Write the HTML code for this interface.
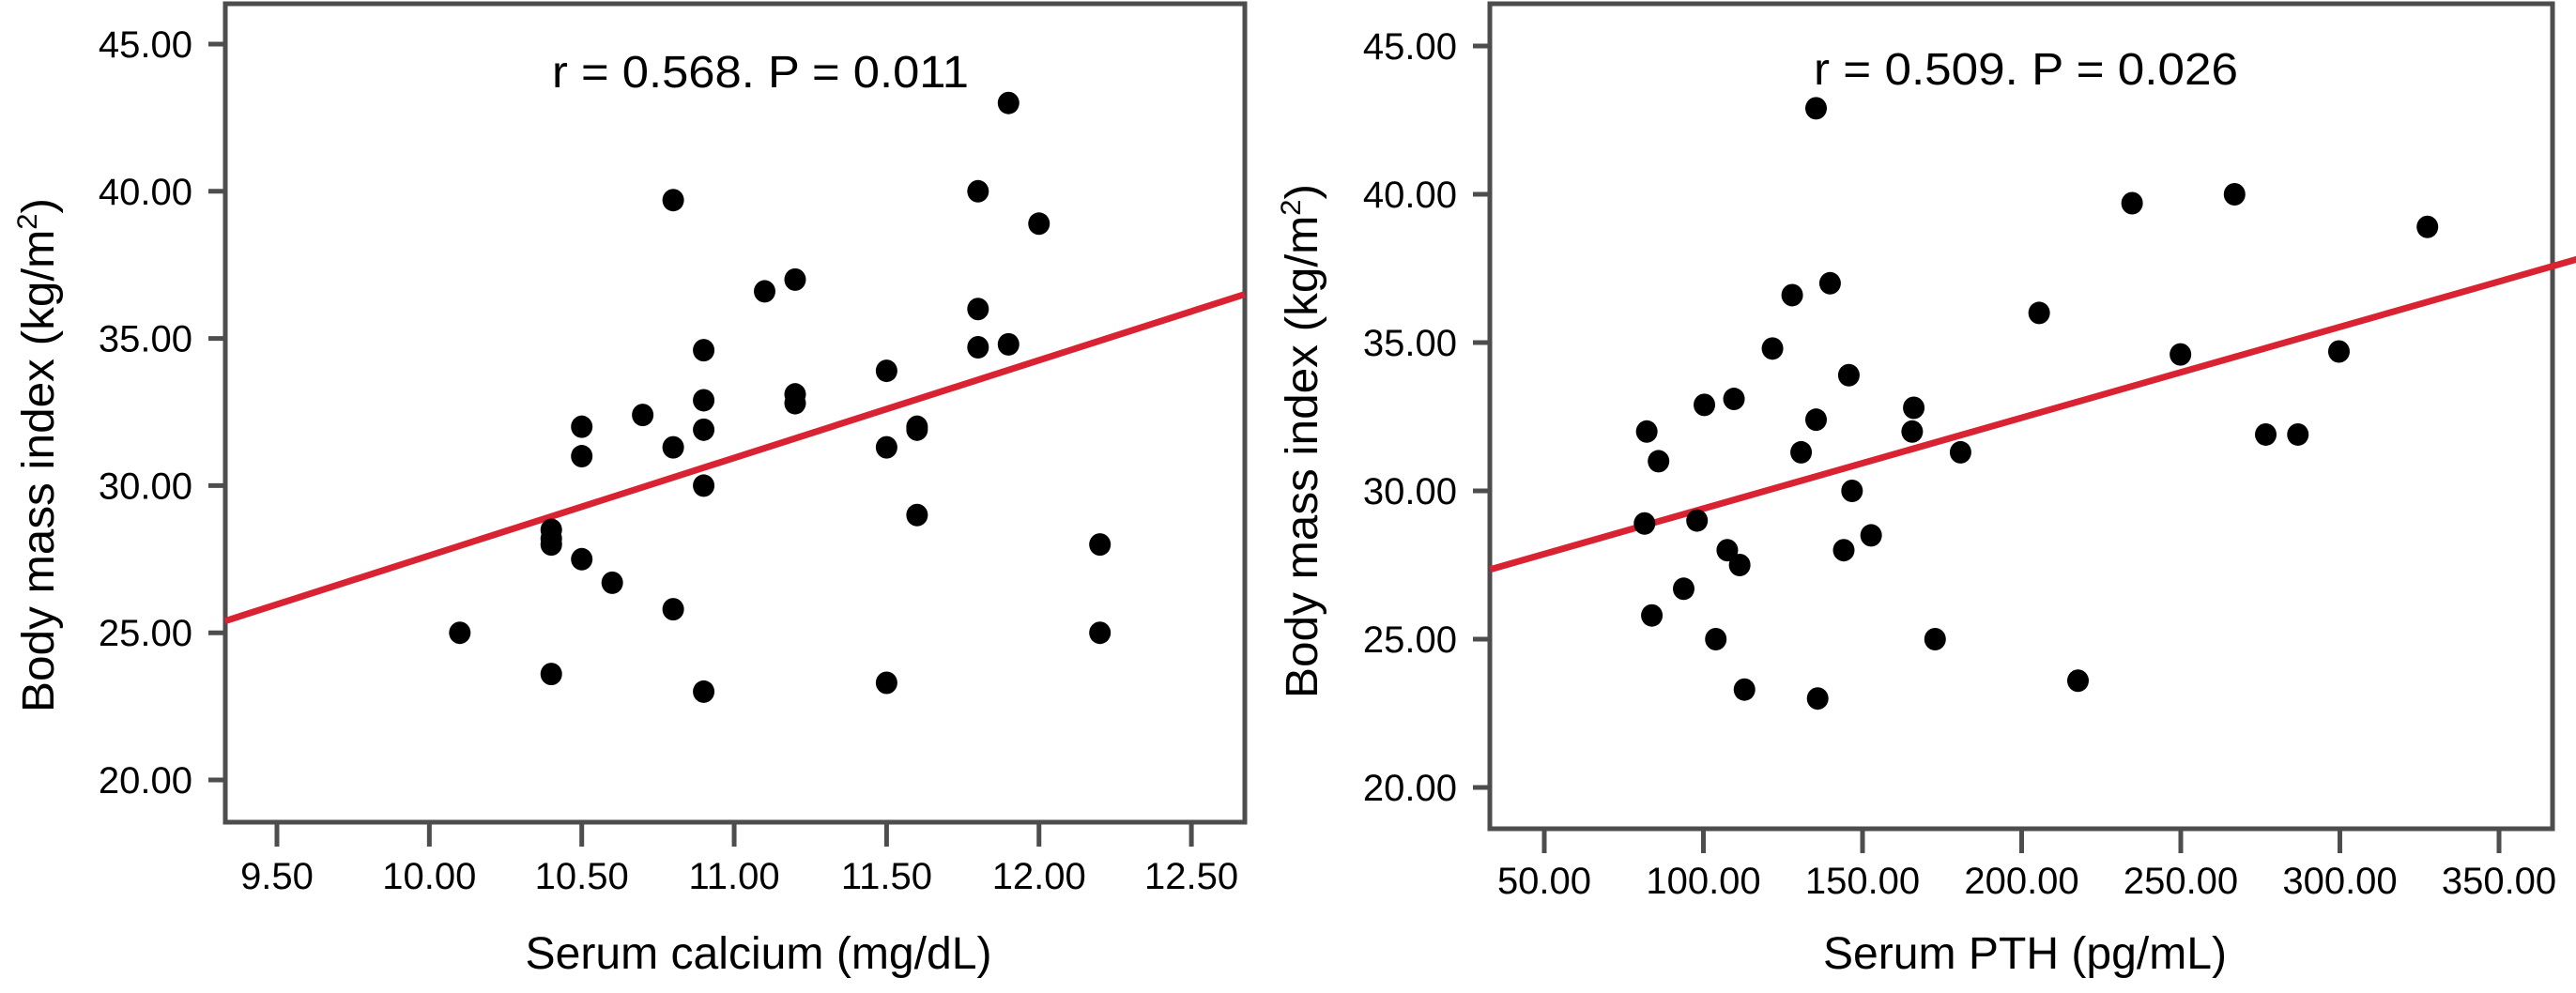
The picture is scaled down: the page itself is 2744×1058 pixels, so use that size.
<!DOCTYPE html>
<html><head><meta charset="utf-8"><style>
html,body{margin:0;padding:0;background:#fff;}
svg{display:block;font-family:"Liberation Sans",Arial,sans-serif;}
</style></head><body>
<svg id="fig" width="2744" height="1058" viewBox="0 0 2744 1058" xmlns="http://www.w3.org/2000/svg"></svg>
<script>
// ---- Left chart data ----
const caX = [10.1,10.4,10.4,10.4,10.4,10.5,10.5,10.5,10.6,10.7,10.8,10.8,10.8,10.9,10.9,10.9,10.9,10.9,11.1,11.2,11.2,11.2,11.5,11.5,11.5,11.6,11.6,11.6,11.8,11.8,11.8,11.9,11.9,12.0,12.2,12.2];
const caBMI = [25,23.6,28.5,28.2,28,32,31,27.5,26.7,32.4,39.7,31.3,25.8,34.6,32.9,31.9,30,23,36.6,37,33.1,32.8,33.9,31.3,23.3,32,31.9,29,40,36,34.7,43,34.8,38.9,28,25];
const caTicks = [9.5,10,10.5,11,11.5,12,12.5];
const caTickLabels = ["9.50","10.00","10.50","11.00","11.50","12.00","12.50"];
const caFitX = [9.33,12.675];
const caFitY = [25.4,36.5];
// ---- Right chart data ----
const pthX = [135.4,234.7,266.9,327.5,139.8,127.9,205.5,121.7,249.9,299.7,145.7,100.3,109.6,166.1,82.2,135.4,165.6,276.7,286.8,85.9,130.7,180.8,146.7,81.5,98.0,107.5,111.4,144.1,152.7,93.8,83.8,103.9,172.8,112.9,135.9,217.7];
const pthBMI = [42.9,39.7,40.0,38.9,37.0,36.6,36.0,34.8,34.6,34.7,33.9,32.9,33.1,32.8,32.0,32.4,32.0,31.9,31.9,31.0,31.3,31.3,30.0,28.9,29.0,28.0,27.5,28.0,28.5,26.7,25.8,25.0,25.0,23.3,23.0,23.6];
const pthTicks = [50,100,150,200,250,300,350];
const pthTickLabels = ["50.00","100.00","150.00","200.00","250.00","300.00","350.00"];
const pthFitX = [33,384];
const pthFitY = [27.35,38.1];
// ---- Shared y ----
const yTicks = [20,25,30,35,40,45];
const yTickLabels = ["20.00","25.00","30.00","35.00","40.00","45.00"];

const NS = "http://www.w3.org/2000/svg";
const svg = document.getElementById('fig');
function mk(tag, attrs, parent){
  const e = document.createElementNS(NS, tag);
  for (const k in attrs) e.setAttribute(k, attrs[k]);
  (parent||svg).appendChild(e);
  return e;
}

function drawChart(cfg){
  const g = mk('g', {});
  
  
  const sx = v => cfg.x0 + (v - cfg.xv0) * cfg.xs;
  const sy = v => cfg.y0 - (v - 20) * cfg.ys;
  // frame
  const fr = mk('rect', {x:cfg.L, y:cfg.T, width:cfg.R-cfg.L, height:cfg.B-cfg.T, fill:'none', stroke:'#4d4d4d', 'stroke-width':5}, g);
  
  
  // y ticks
  yTicks.forEach((v,i)=>{
    const y = sy(v);
    const t = mk('line', {x1:cfg.L-18, x2:cfg.L, y1:y, y2:y, stroke:'#4d4d4d', 'stroke-width':5}, g);
    
    
    const tx = mk('text', {x:cfg.ylabX, y:y+14, 'font-size':40, 'text-anchor':'end', fill:'#000'}, g);
    tx.textContent = yTickLabels[i];
    
    
  });
  // x ticks
  cfg.xt.forEach((v,i)=>{
    const x = sx(v);
    const t = mk('line', {x1:x, x2:x, y1:cfg.B, y2:cfg.B+26, stroke:'#4d4d4d', 'stroke-width':5}, g);
    
    
    const tx = mk('text', {x:x, y:cfg.xlabY, 'font-size':40, 'text-anchor':'middle', fill:'#000'}, g);
    tx.textContent = cfg.xtl[i];
    
    
  });
  // fit line
  const fl = mk('line', {x1:sx(cfg.fx[0]), y1:sy(cfg.fy[0]), x2:sx(cfg.fx[1]), y2:sy(cfg.fy[1]), stroke:'#d92332', 'stroke-width':7}, g);
  
  
  // points
  cfg.px.forEach((v,i)=>{
    const c = mk('ellipse', {cx:sx(v), cy:sy(cfg.py[i]), rx:11.5, ry:12, fill:'#000'}, g);
    
    
  });
  // annotation
  const an = mk('text', {x:cfg.annX, y:cfg.annY, 'font-size':48, fill:'#000', textLength:cfg.annW, lengthAdjust:'spacingAndGlyphs'}, g);
  an.textContent = cfg.ann;
  
  
  // x title
  const xt = mk('text', {x:cfg.xtX, y:1032, 'font-size':48, 'text-anchor':'middle', fill:'#000', textLength:cfg.xtW, lengthAdjust:'spacingAndGlyphs'}, g);
  xt.textContent = cfg.xtitle;
  
  
  // y title
  const yt = mk('text', {x:0, y:0, 'font-size':48, 'text-anchor':'middle', fill:'#000', textLength:548, lengthAdjust:'spacingAndGlyphs', transform:`translate(${cfg.ytX},${cfg.ytY}) rotate(-90)`}, g);
  
  
  yt.appendChild(document.createTextNode('Body mass index (kg/m'));
  const sup = mk('tspan', {'font-size':30, dy:-18}, yt);
  sup.textContent = '2';
  const cl = mk('tspan', {dy:18}, yt);
  cl.textContent = ')';
}

drawChart({name:'calcium-chart', L:240, R:1326, T:4, B:876,
  x0:295, xv0:9.5, xs:324.7, y0:831, ys:31.36,
  xt:caTicks, xtl:caTickLabels, fx:caFitX, fy:caFitY, px:caX, py:caBMI,
  ylabX:205, xlabY:947, ann:'r = 0.568. P = 0.011', annX:588, annY:93, annW:444,
  xtitle:'Serum calcium (mg/dL)', xtX:808, xtW:497, ytX:57, ytY:485});

drawChart({name:'pth-chart', L:1587, R:2719, T:4, B:883,
  x0:1645, xv0:50, xs:3.39, y0:839, ys:31.6,
  xt:pthTicks, xtl:pthTickLabels, fx:pthFitX, fy:pthFitY, px:pthX, py:pthBMI,
  ylabX:1552, xlabY:952, ann:'r = 0.509. P = 0.026', annX:1932, annY:90, annW:452,
  xtitle:'Serum PTH (pg/mL)', xtX:2157, xtW:430, ytX:1403, ytY:470});
</script>
</body></html>
